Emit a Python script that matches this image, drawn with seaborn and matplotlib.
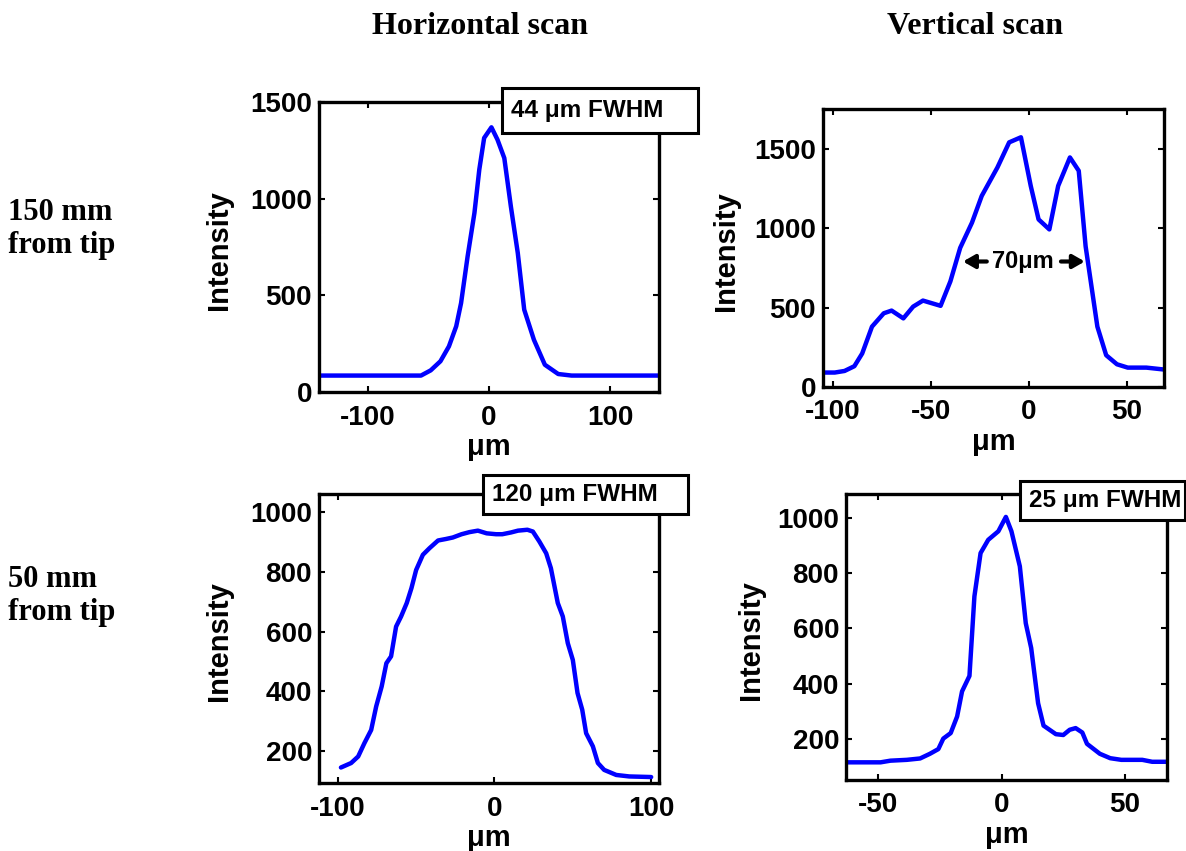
import matplotlib
matplotlib.use("Agg")
import matplotlib.pyplot as plt
import seaborn as sns
from matplotlib.patches import Rectangle

# horizontal scan, 150 mm from tip
h150_x = [-140, -56, -48, -40, -33, -27, -23, -17.6, -12, -8, -4, 2, 7, 12.6, 18, 23.7, 29, 37, 46, 57, 68, 140]
h150_y = [85, 85, 112, 159, 236, 340, 460, 702, 926, 1150, 1314, 1369, 1305, 1210, 960, 719, 426, 270, 141, 93, 85, 85]

# vertical scan, 150 mm from tip
v150_x = [-105, -99, -94, -89, -85, -80, -74, -70, -64, -59, -54, -45, -40, -35, -29, -24, -16, -10, -4,
          1, 5, 10.5, 15, 21, 25.5, 29, 32, 35, 39.5, 45, 50.5, 60, 69]
v150_y = [91, 91, 101, 131, 211, 380, 464, 481, 432, 506, 544, 511, 665, 876, 1034, 1203, 1382, 1540, 1572,
          1266, 1055, 992, 1266, 1445, 1361, 886, 633, 380, 200, 143, 122, 122, 110]

# horizontal scan, 50 mm from tip
h50_x = [-98, -91.5, -87, -83, -78.7, -75.5, -72, -69, -66, -62.8, -59.6, -56, -53, -50, -45.7, -41.5, -36,
         -31, -26.6, -21, -16, -10.6, -5, 1, 5, 10.6, 15, 21, 24.5, 28.7, 33, 36, 40.4, 43.6, 46.8, 50, 53,
         56, 58.5, 62.8, 66, 70, 77.7, 86, 100]
h50_y = [144, 159, 181, 226, 270, 349, 416, 494, 517, 617, 651, 696, 746, 807, 858, 880, 906,
         911, 916, 927, 934, 939, 930, 927, 927, 933, 939, 942, 936, 902, 863, 813, 696, 651, 561, 505, 394,
         338, 259, 215, 159, 136, 119, 114, 112]

# vertical scan, 50 mm from tip
v50_x = [-63, -49, -45, -38.4, -33, -29, -25.6, -23.6, -20.6, -18, -16, -13, -11, -8.5, -5.4, -1.3, 1.75,
         4, 7.4, 9.8, 12, 14.8, 17, 22, 25, 27.6, 30, 32.7, 34.6, 39.8, 44, 48.5, 57, 61, 67]
v50_y = [115, 115, 121, 124, 129, 146, 163, 201, 221, 281, 372, 428, 716, 873, 921, 952, 1004,
         952, 825, 619, 529, 329, 248, 217, 214, 233, 239, 223, 182, 146, 130, 124, 124, 117, 117]

col_titles = ["Horizontal scan", "Vertical scan"]
row_titles = ["150 mm\nfrom tip", "50 mm\nfrom tip"]
fwhm_labels = ["44 \u03bcm FWHM", "120 \u03bcm FWHM", "25 \u03bcm FWHM"]

sns.set_style("ticks")
plt.rcParams['font.family'] = ['Liberation Sans', 'DejaVu Sans']
plt.rcParams['font.weight'] = 'bold'
plt.rcParams['axes.unicode_minus'] = False
for k in ['text.color', 'axes.labelcolor', 'xtick.color', 'ytick.color', 'axes.edgecolor']:
    plt.rcParams[k] = 'black'

W, H = 1186, 851
fig = plt.figure(figsize=(W / 100, H / 100), dpi=100)


def add_ax(x0, y0, x1, y1):
    # pixel box -> figure fraction
    return fig.add_axes([x0 / W, 1 - y1 / H, (x1 - x0) / W, (y1 - y0) / H])


panels = [
    (add_ax(319, 102, 659, 392), h150_x, h150_y, (-140, 140), (0, 1500), [-100, 0, 100], [0, 500, 1000, 1500], -0.253),
    (add_ax(823, 109, 1164, 387), v150_x, v150_y, (-105, 69), (0, 1750), [-100, -50, 0, 50], [0, 500, 1000, 1500], -0.243),
    (add_ax(319, 494, 659, 783), h50_x, h50_y, (-112, 105), (92, 1062), [-100, 0, 100], [200, 400, 600, 800, 1000], -0.253),
    (add_ax(846, 494, 1167, 780), v50_x, v50_y, (-63, 67), (51, 1087), [-50, 0, 50], [200, 400, 600, 800, 1000], -0.252),
]

for ax, xs, ys, xl, yl, xt, yt, ylx in panels:
    sns.lineplot(x=xs, y=ys, ax=ax, color='#0000ff', linewidth=3.2, sort=False, estimator=None)
    ax.set_xlim(*xl)
    ax.set_ylim(*yl)
    ax.set_xticks(xt)
    ax.set_yticks(yt)
    ax.tick_params(direction='in', length=4, width=1.5, top=True, right=True, labelsize=20)
    ax.tick_params(axis='x', pad=9)
    ax.tick_params(axis='y', pad=5)
    for s in ax.spines.values():
        s.set_linewidth(2.4)
    ax.set_xlabel("\u03bcm", fontsize=21, fontweight='bold', labelpad=2)
    ax.set_ylabel("Intensity", fontsize=21, fontweight='bold')
    ax.yaxis.set_label_coords(ylx, 0.49)

# FWHM arrows on the vertical scan
ax_tr = panels[1][0]
arrow = dict(arrowstyle='-|>,head_length=0.7,head_width=0.4', lw=3, color='black')
ax_tr.annotate('', xy=(-35, 790), xytext=(-20, 790), arrowprops=arrow)
ax_tr.annotate('', xy=(30, 790), xytext=(15, 790), arrowprops=arrow)
ax_tr.text(-3, 790, "70\u03bcm", ha='center', va='center', fontsize=17, fontweight='bold')

# FWHM boxes (pixel boxes, text inside)
boxes = [(502, 88, 698, 133), (483, 475, 688, 514), (1020, 481, 1185, 520)]
for (x0, y0, x1, y1), lab in zip(boxes, fwhm_labels):
    fig.patches.append(Rectangle((x0 / W, 1 - y1 / H), (x1 - x0) / W, (y1 - y0) / H,
                                 transform=fig.transFigure, fc='white', ec='black', lw=2.2, zorder=5))
    fig.text((x0 + 9) / W, 1 - (y0 + y1) / 2 / H, lab, ha='left', va='center', fontsize=17.5,
             fontweight='bold', zorder=6)

# column and row headers
serif = ['Liberation Serif', 'DejaVu Serif']
fig.text(480 / W, 1 - 26 / H, col_titles[0], ha='center', va='center', fontsize=23, fontweight='bold', family=serif)
fig.text(975 / W, 1 - 26 / H, col_titles[1], ha='center', va='center', fontsize=23, fontweight='bold', family=serif)
fig.text(8 / W, 1 - 229 / H, row_titles[0], ha='left', va='center', fontsize=22, fontweight='bold', family=serif,
         linespacing=1.2)
fig.text(8 / W, 1 - 596 / H, row_titles[1], ha='left', va='center', fontsize=22, fontweight='bold', family=serif,
         linespacing=1.2)

fig.savefig('out.png', dpi=100)
